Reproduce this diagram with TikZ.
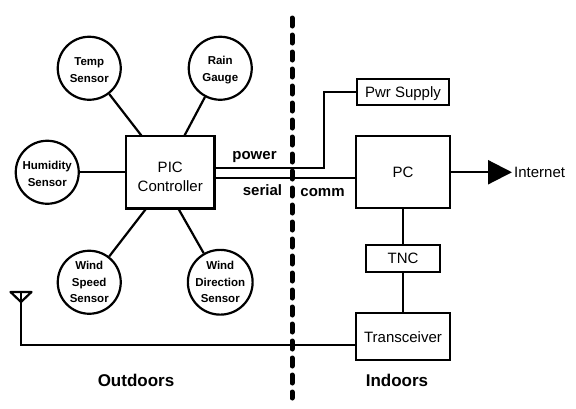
\documentclass[tikz,border=0pt]{standalone}
\usepackage{fontspec}
\setmainfont{Liberation Sans}
\usetikzlibrary{positioning,arrows.meta}
\newcommand{\pushdown}[1]{\rule{0pt}{#1}}

\begin{document}
\begin{tikzpicture}[
    x=1pt, y=1pt,
    node distance=30pt and 30pt,
    box/.style={rectangle, draw, line width=2.4pt, inner sep=0pt, outer sep=0pt, align=center,
                font=\fontsize{15}{19}\selectfont},
    sensor/.style={circle, draw, line width=2.2pt, on grid, minimum size=63pt, inner sep=0pt,
                   align=center, font=\fontsize{11.5}{16.5}\bfseries\selectfont},
    wire/.style={line width=2.2pt},
    lbl/.style={anchor=base, inner sep=0pt, font=\fontsize{15}{18}\bfseries\selectfont},
    side/.style={anchor=base, inner sep=0pt, font=\fontsize{17}{20}\bfseries\selectfont}
]
\useasboundingbox (0,0) rectangle (576,-408);

%% -- Controller and sensors
\node[box, minimum width=88.5pt, minimum height=72.5pt] (pic) at (170.25,-172.25) {\pushdown{19pt}PIC\\Controller};

\node[sensor, above left=104pt and 81pt of pic]  (temp)  {\pushdown{11.5pt}Temp\\Sensor};
\node[sensor, above right=104pt and 50pt of pic] (rain)  {\pushdown{11.5pt}Rain\\Gauge};
\node[sensor, left=123pt of pic]                 (humid) {\pushdown{11.5pt}Humidity\\Sensor};
\node[sensor, below left=110pt and 81pt of pic]  (wspeed) {Wind\\Speed\\Sensor};
\node[sensor, below right=110pt and 50pt of pic] (wdir)  {Wind\\Direction\\Sensor};

%% -- Indoor units
\node[box, right=141.5pt of pic, minimum width=94pt, minimum height=72pt] (pc) {PC};
\node[box, above=31pt of pc, text depth=0pt, minimum width=92pt, minimum height=26pt] (pwr) {Pwr Supply};
\node[box, below=37pt of pc, minimum width=74pt, minimum height=27pt] (tnc) {TNC};
\node[box, below=41pt of tnc, minimum width=94pt, minimum height=47pt] (trans) {Transceiver};

\node[right=62pt of pc, inner sep=2pt, font=\fontsize{15}{18}\selectfont] (inet) {Internet};

%% -- Free ends
\coordinate (ant) at (21,-292);
\coordinate (divtop) at (292,-18);
\coordinate (divbot) at (292,-398);

%% -- Labels
\node[lbl] (power) at (254.5,-159) {power};
\node[lbl] (serial) at (262.5,-195) {serial};
\node[lbl] (comm) at (322.5,-196) {comm};
\node[side] (out) at (136,-386) {Outdoors};
\node[side] (in) at (397,-386) {Indoors};

%% -- Connectors
\draw[wire] (temp)   -- ([xshift=-28.5pt]pic.north);
\draw[wire] (rain)   -- ([xshift=14pt]pic.north);
\draw[wire] (humid)  -- (pic);
\draw[wire] (wspeed) -- ([xshift=-24pt]pic.south);
\draw[wire] (wdir)   -- ([xshift=8pt]pic.south);

\draw[wire] ([yshift=4pt]pic.east) -- ++(109.5,0) |- (pwr.west);
\draw[wire] ([yshift=-6pt]pic.east) -- ([yshift=-6pt]pc.west);
\draw[wire] (pc) -- (tnc);
\draw[wire] (tnc) -- (trans);
\draw[wire, -{Triangle[length=24pt,width=24pt]}] (pc.east) -- (inet.west);

\draw[wire] ([yshift=-8.5pt]trans.west) -| (ant);
\draw[wire, line join=round] ([xshift=-10.5pt]ant) -- ([xshift=10.5pt]ant) -- ([yshift=-10pt]ant) -- cycle;

\draw[line width=5pt, line cap=round, dash pattern=on 8pt off 9pt] (divtop) -- (divbot);
\end{tikzpicture}
\end{document}
